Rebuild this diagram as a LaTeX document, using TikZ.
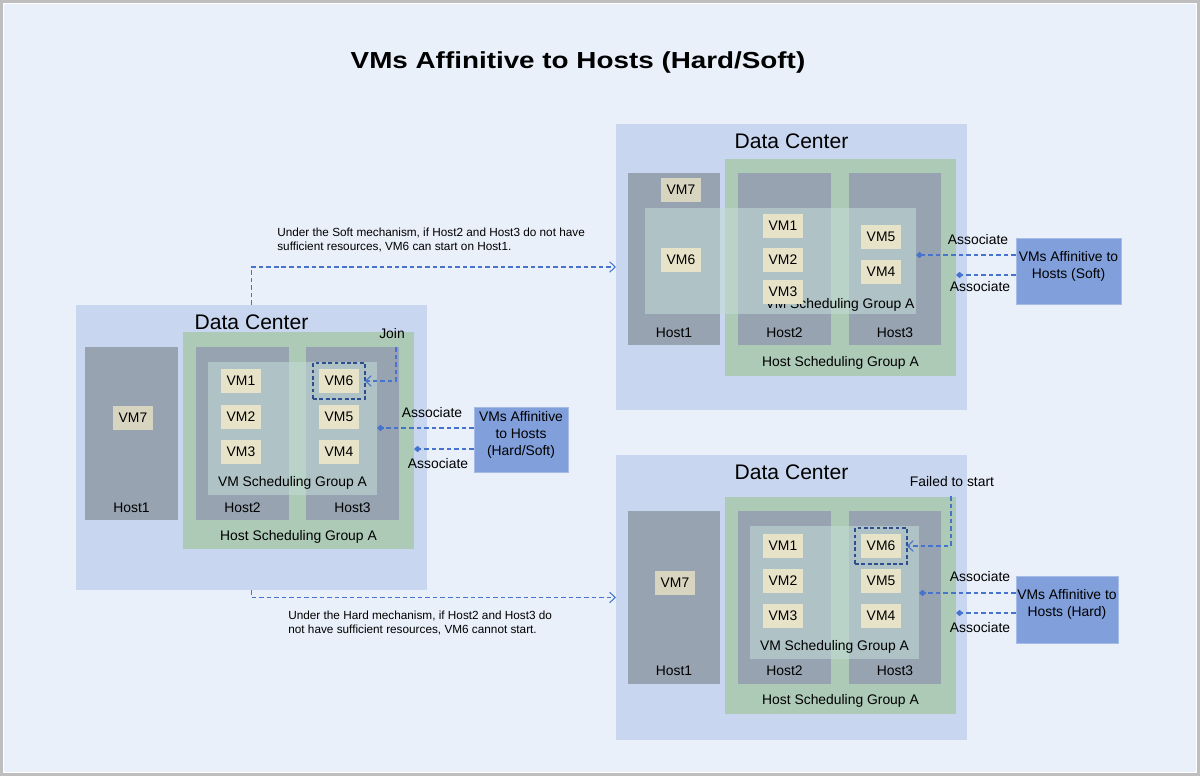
\documentclass[tikz,border=0pt]{standalone}
\usepackage{fontspec}
\setmainfont{Liberation Sans}
\newfontfamily\titlefont[FakeStretch=1.2]{Liberation Sans}
\usetikzlibrary{arrows.meta,positioning,fit}
\definecolor{PageBlue}{HTML}{EAF0FA}
\definecolor{FrameGray}{HTML}{BEBEBE}
\definecolor{DcBlue}{HTML}{C8D6EF}
\definecolor{HsgGreen}{HTML}{ADCAB7}
\definecolor{HostGray}{HTML}{97A3B1}
\definecolor{VmgTint}{HTML}{C4DCD6}
\definecolor{VmBeige}{HTML}{E6E3C9}
\definecolor{VmBeigeDark}{HTML}{D7D4BF}
\definecolor{LinkBlue}{HTML}{4673CC}
\definecolor{MarkBlue}{HTML}{2E4E8E}
\definecolor{AffBlue}{HTML}{819FDB}
\definecolor{AffEdge}{HTML}{A6BCE6}

\begin{document}
\begin{tikzpicture}[x=0.02cm, y=-0.02cm, font=\fontsize{7.9}{9.4}\selectfont,
  area/.style={inner sep=0pt, outer sep=0pt, draw=none},
  dc/.style={area, fill=DcBlue},
  hsg/.style={area, fill=HsgGreen},
  host/.style={area, fill=HostGray},
  vmg/.style={area, fill=VmgTint, fill opacity=0.55},
  vm/.style={fill=VmBeige, minimum width=0.8cm, minimum height=0.48cm, inner sep=0pt},
  vmhost/.style={vm, fill=VmBeigeDark},
  pick/.style={draw=MarkBlue, line width=0.9pt, dash pattern=on 2.2pt off 1.4pt, inner sep=0.11cm, outer sep=0pt},
  aff/.style={area, fill=AffBlue, draw=AffEdge, line width=0.5pt, align=center, font=\fontsize{7.9}{9.7}\selectfont},
  dctitle/.style={font=\fontsize{12}{14}\selectfont},
  note/.style={font=\fontsize{6.7}{7.9}\selectfont, align=left, anchor=north west, inner sep=0pt},
  flow/.style={draw=LinkBlue, line width=0.6pt, dash pattern=on 2.6pt off 1.7pt, -{Straight Barb[length=3.2pt,width=6pt]}},
  assoc/.style={draw=LinkBlue, line width=0.6pt, dash pattern=on 2.6pt off 1.7pt, -{Diamond[length=4pt,width=3.6pt]}}]
  \useasboundingbox (0,0) rectangle (1200,776);
  \draw[FrameGray, line width=1.7pt, fill=PageBlue] (1.5,1.5) rectangle (1198.5,774.5);
  \draw[white, line width=0.5pt] (3.5,3.5) rectangle (1196.5,772.5);
  \node[font=\titlefont\bfseries\fontsize{13.2}{16}\selectfont] (title) at (578,63) {VMs Affinitive to Hosts (Hard/Soft)};

  % left: data center before the rule
  \node[dc, fit={(76,305) (427,590)}] (dcL) {};
  \node[dctitle] at ([yshift=-0.34cm]dcL.north) {Data Center};
  \node[hsg, fit={(183,332) (414,549)}] (hsgL) {};
  \node[host, fit={(85,347) (178,520)}] (hL1) {};
  \node[host, fit={(196,347) (289,520)}] (hL2) {};
  \node[host, fit={(306,347) (399,520)}] (hL3) {};
  \foreach \h in {1,2,3}
    \node at ([yshift=0.25cm]hL\h.south) {Host\h};
  \node at ([yshift=0.24cm]hsgL.south) {Host Scheduling Group A};
  \node[vmg, fit={(208,362) (377,495)}] (vmgL) {};
  \node at ([yshift=0.25cm]vmgL.south) {VM Scheduling Group A};
  \foreach \n/\x/\y in {1/241/381, 2/241/417, 3/241/452, 6/339/381, 5/339/417, 4/339/452}
    \node[vm] (vmL\n) at (\x,\y) {VM\n};
  \node[vmhost] (vmL7) at (133,418) {VM7};
  \node[pick, fit=(vmL6)] (pickL) {};
  \node (joinL) at (392,334) {Join};
  \coordinate (joinA) at (396,347);
  \draw[flow] (joinA) |- (pickL.east);
  \node[aff, fit={(474,407) (568,472)}] (affL) {VMs Affinitive\\to Hosts\\(Hard/Soft)};
  \coordinate (aL1) at ([yshift=0.23cm]affL.west);
  \coordinate (aL2) at ([yshift=-0.19cm]affL.west);
  \draw[assoc] (aL1) -- (aL1 -| vmgL.east);
  \draw[assoc] (aL2) -- (aL2 -| hsgL.east);
  \node at (432,413) {Associate};
  \node at (438,464) {Associate};

  % top right: soft
  \node[dc, fit={(616,124) (967,410)}] (dcS) {};
  \node[dctitle] at ([yshift=-0.34cm]dcS.north) {Data Center};
  \node[hsg, fit={(725,159) (956,376)}] (hsgS) {};
  \node[host, fit={(628,173) (720,345)}] (hS1) {};
  \node[host, fit={(738,173) (831,345)}] (hS2) {};
  \node[host, fit={(849,173) (941,345)}] (hS3) {};
  \foreach \h in {1,2,3}
    \node at ([yshift=0.25cm]hS\h.south) {Host\h};
  \node at ([yshift=0.27cm]hsgS.south) {Host Scheduling Group A};
  \node[vmg, fit={(645,208) (916,314)}] (vmgS) {};
  \node at (840,305) {VM Scheduling Group A};
  \foreach \n/\x/\y in {6/681/260, 1/783/226, 2/783/260, 3/783/292, 5/881/237, 4/881/272}
    \node[vm] (vmS\n) at (\x,\y) {VM\n};
  \node[vmhost] (vmS7) at (681,190) {VM7};
  \node[aff, fit={(1016,238) (1121,304)}] (affS) {VMs Affinitive to\\Hosts (Soft)};
  \coordinate (aS1) at ([yshift=0.32cm]affS.west);
  \coordinate (aS2) at ([yshift=-0.08cm]affS.west);
  \draw[assoc] (aS1) -- (aS1 -| vmgS.east);
  \draw[assoc] (aS2) -- (aS2 -| hsgS.east);
  \node at (978,240) {Associate};
  \node at (980,287) {Associate};

  % bottom right: hard
  \node[dc, fit={(616,455) (967,740)}] (dcH) {};
  \node[dctitle] at ([yshift=-0.34cm]dcH.north) {Data Center};
  \node[hsg, fit={(725,497) (956,714)}] (hsgH) {};
  \node[host, fit={(628,511) (720,684)}] (hH1) {};
  \node[host, fit={(738,511) (831,684)}] (hH2) {};
  \node[host, fit={(849,511) (941,684)}] (hH3) {};
  \foreach \h in {1,2,3}
    \node at ([yshift=0.26cm]hH\h.south) {Host\h};
  \node at ([yshift=0.26cm]hsgH.south) {Host Scheduling Group A};
  \node[vmg, fit={(750,526) (919,659)}] (vmgH) {};
  \node at ([yshift=0.24cm]vmgH.south) {VM Scheduling Group A};
  \foreach \n/\x/\y in {1/783/546, 2/783/581, 3/783/616, 6/881/546, 5/881/581, 4/881/616}
    \node[vm] (vmH\n) at (\x,\y) {VM\n};
  \node[vmhost] (vmH7) at (675,583) {VM7};
  \node[pick, fit=(vmH6)] (pickH) {};
  \node (failH) at (952,482) {Failed to start};
  \coordinate (failA) at (951,496);
  \draw[flow] (failA) |- (pickH.east);
  \node[aff, fit={(1016,576) (1118,643)}] (affH) {VMs Affinitive to\\Hosts (Hard)};
  \coordinate (aH1) at ([yshift=0.33cm]affH.west);
  \coordinate (aH2) at ([yshift=-0.07cm]affH.west);
  \draw[assoc] (aH1) -- (aH1 -| vmgH.east);
  \draw[assoc] (aH2) -- (aH2 -| hsgH.east);
  \node at (980,577) {Associate};
  \node at (980,628) {Associate};

  % soft / hard outcomes
  \draw[flow] (dcL.north) |- (dcS.west);
  \draw[flow] (dcL.south) |- (dcH.west);
  \node[note] (softN) at (277,228) {Under the Soft mechanism, if Host2 and Host3 do not have\\sufficient resources, VM6 can start on Host1.};
  \node[note] (hardN) at (288,611) {Under the Hard mechanism, if Host2 and Host3 do\\not have sufficient resources, VM6 cannot start.};
\end{tikzpicture}
\end{document}
